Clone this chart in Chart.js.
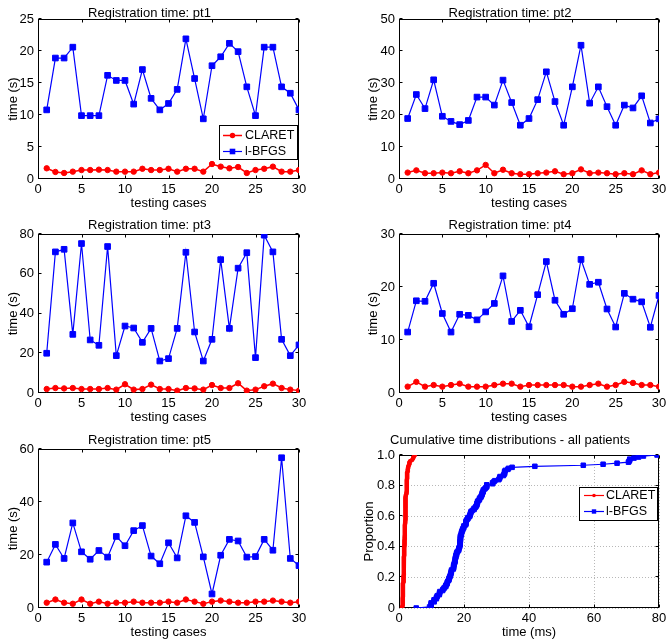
<!DOCTYPE html>
<html>
<head>
<meta charset="utf-8">
<script src="https://cdn.jsdelivr.net/npm/chart.js@4.4.1/dist/chart.umd.min.js"></script>
<style>
  html, body { margin: 0; padding: 0; background: #fff; }
  #wrap { position: relative; width: 672px; height: 644px; overflow: hidden; }
  #wrap canvas { position: absolute; }
</style>
</head>
<body>
<div id="wrap"></div>
<script>
// testing cases 1..30
const cases = [1, 2, 3, 4, 5, 6, 7, 8, 9, 10, 11, 12, 13, 14, 15,
               16, 17, 18, 19, 20, 21, 22, 23, 24, 25, 26, 27, 28, 29, 30];

const seriesNames = ['CLARET', 'l-BFGS'];

// registration time (s) per patient
const claretPt1 = [1.67, 1.1, 0.94, 1.15, 1.4, 1.4, 1.46, 1.4, 1.15, 1.15, 1.15, 1.6, 1.4, 1.4, 1.6,
                   1.15, 1.6, 1.6, 1.15, 2.34, 1.93, 1.67, 1.87, 0.94, 1.4, 1.6, 1.93, 1.15, 1.15, 1.4];
const lbfgsPt1  = [10.8, 18.9, 18.9, 20.6, 9.9, 9.9, 9.9, 16.2, 15.4, 15.4, 11.7, 17.1, 12.6, 10.8, 11.8,
                   14.0, 21.9, 15.7, 9.4, 17.7, 19.1, 21.2, 19.9, 14.4, 9.9, 20.6, 20.6, 14.4, 13.4, 10.8];

const claretPt2 = [2.0, 2.7, 1.8, 1.8, 2.0, 1.8, 2.4, 1.8, 2.7, 4.4, 1.8, 2.9, 1.8, 1.5, 1.5,
                   1.8, 2.0, 2.4, 1.5, 1.8, 3.0, 1.8, 2.0, 1.8, 1.5, 1.8, 1.5, 2.7, 1.5, 2.0];
const lbfgsPt2  = [18.9, 26.4, 22.0, 31.0, 19.6, 18.0, 17.0, 18.3, 25.6, 25.6, 23.1, 30.9, 23.9, 16.8, 18.9,
                   24.8, 33.5, 24.2, 16.8, 28.8, 41.8, 23.7, 28.8, 22.6, 16.8, 23.1, 22.2, 26.0, 17.5, 18.8];

const claretPt3 = [2.0, 2.5, 2.3, 2.5, 2.0, 2.0, 2.0, 2.5, 1.7, 4.4, 1.7, 2.0, 4.2, 2.0, 2.0,
                   1.2, 2.5, 2.3, 1.7, 4.0, 2.5, 2.5, 4.9, 1.2, 1.7, 3.4, 4.7, 2.5, 1.7, 1.2];
const lbfgsPt3  = [20.0, 71.0, 72.3, 29.5, 75.2, 26.7, 24.0, 73.7, 18.8, 33.7, 32.7, 25.5, 32.5, 16.1, 17.3,
                   32.5, 70.8, 30.7, 16.1, 27.0, 67.1, 32.5, 62.8, 70.6, 17.8, 79.4, 71.0, 27.0, 18.8, 24.2];

const claretPt4 = [1.2, 2.1, 1.2, 1.5, 1.2, 1.5, 1.76, 1.2, 1.2, 1.2, 1.5, 1.76, 1.76, 1.2, 1.5,
                   1.5, 1.5, 1.5, 1.5, 1.2, 1.2, 1.5, 1.76, 1.2, 1.5, 2.1, 1.9, 1.5, 1.5, 1.2];
const lbfgsPt4  = [11.5, 17.4, 17.3, 20.7, 15.0, 11.5, 14.85, 14.65, 13.8, 15.3, 16.9, 22.1, 13.5, 15.6, 12.5,
                   18.55, 24.8, 17.5, 14.85, 15.9, 25.2, 20.5, 20.9, 15.85, 12.45, 18.8, 17.7, 17.2, 12.4, 18.4];

const claretPt5 = [2.0, 3.2, 2.0, 1.6, 3.2, 1.6, 2.4, 1.6, 2.0, 2.0, 2.4, 2.0, 2.0, 2.0, 2.4,
                   2.0, 3.2, 2.4, 1.6, 2.4, 2.8, 2.4, 2.0, 2.0, 2.4, 2.4, 2.8, 2.4, 2.0, 2.4];
const lbfgsPt5  = [17.3, 24.0, 18.7, 32.1, 21.2, 18.4, 21.7, 19.2, 27.0, 23.5, 29.2, 31.1, 19.6, 16.7, 24.6,
                   18.9, 34.8, 32.3, 19.3, 5.3, 19.9, 25.9, 25.3, 19.2, 19.4, 25.9, 21.8, 56.7, 18.7, 16.0];

// axis ticks
const caseTicks = { min: 0, max: 30, step: 5 };
const timeAxes = [
  { max: 25, step: 5 },
  { max: 50, step: 10 },
  { max: 80, step: 20 },
  { max: 30, step: 10 },
  { max: 60, step: 20 }
];
const cdfTicks = { xMax: 80, xStep: 20, yMax: 1, yStep: 0.2 };

const FONT = "'Liberation Sans', Arial, Helvetica, sans-serif";
const RED = 'rgb(255,0,0)';
const BLUE = 'rgb(0,0,255)';

Chart.defaults.font.family = FONT;
Chart.defaults.font.size = 13;
Chart.defaults.color = '#000';

// box around the plot with inward ticks on all four sides (matlab look)
const boxTicks = {
  id: 'boxTicks',
  beforeDatasetsDraw(chart) {
    const { ctx, chartArea: a, scales: { x, y } } = chart;
    const L = Math.round(a.left) + 0.5, R = Math.round(a.right) - 0.5;
    const T = Math.round(a.top) + 0.5, B = Math.round(a.bottom) - 0.5;
    ctx.save();
    ctx.strokeStyle = '#000';
    ctx.lineWidth = 1;
    ctx.beginPath();
    x.ticks.forEach(t => {
      const p = Math.round(x.getPixelForValue(t.value)) + 0.5;
      ctx.moveTo(p, B); ctx.lineTo(p, B - 3);
      ctx.moveTo(p, T); ctx.lineTo(p, T + 3);
    });
    y.ticks.forEach(t => {
      const p = Math.round(y.getPixelForValue(t.value)) - 0.5;
      ctx.moveTo(L, p); ctx.lineTo(L + 3, p);
      ctx.moveTo(R, p); ctx.lineTo(R - 3, p);
    });
    ctx.stroke();
    ctx.strokeRect(L, T, R - L, B - T);
    ctx.restore();
  }
};

// legend drawn inside the plot box
const boxLegend = {
  id: 'boxLegend',
  afterDatasetsDraw(chart, args, o) {
    if (!o || !o.show) return;
    const { ctx, chartArea: a } = chart;
    const x0 = Math.round(a.right - o.right - o.w), y0 = Math.round(a.top + o.top);
    ctx.save();
    ctx.fillStyle = '#fff';
    ctx.fillRect(x0, y0, o.w, o.h);
    ctx.strokeStyle = '#000';
    ctx.lineWidth = 1;
    ctx.strokeRect(x0 + 0.5, y0 + 0.5, o.w, o.h);
    ctx.font = '12.5px ' + FONT;
    ctx.textBaseline = 'middle';
    chart.data.datasets.forEach((ds, i) => {
      const yy = y0 + o.rowTop + i * o.rowGap + 0.5;
      const lx = x0 + o.lineX;
      ctx.strokeStyle = ds.borderColor;
      ctx.lineWidth = ds.borderWidth;
      ctx.beginPath();
      ctx.moveTo(lx, yy);
      ctx.lineTo(lx + o.lineLen, yy);
      ctx.stroke();
      const cx = lx + o.lineLen / 2;
      ctx.fillStyle = ds.borderColor;
      ctx.beginPath();
      if (ds.pointStyle === 'rect') {
        ctx.rect(cx - o.sq, yy - o.sq, o.sq * 2, o.sq * 2);
      } else {
        ctx.arc(cx, yy, o.dot, 0, Math.PI * 2);
      }
      ctx.fill();
      ctx.fillStyle = '#000';
      ctx.fillText(ds.label, x0 + o.textX, yy);
    });
    ctx.restore();
  }
};

function xy(xs, ys) {
  return xs.map((v, i) => ({ x: v, y: ys[i] }));
}

// empirical cumulative distribution of all patients
function cdf(values) {
  const s = values.slice().sort((a, b) => a - b);
  return s.map((v, i) => ({ x: v, y: i / (s.length - 1) }));
}

const wrap = document.getElementById('wrap');

function makeChart(p) {
  const [l, t, r, b] = p.plot;
  const yAxisW = 38, xAxisH = 36, top = t - 26, rightPad = 12;
  const cv = document.createElement('canvas');
  cv.width = (r - l) + yAxisW + rightPad;
  cv.height = (b - top) + xAxisH;
  cv.style.left = (l - yAxisW) + 'px';
  cv.style.top = top + 'px';
  cv.style.width = cv.width + 'px';
  cv.style.height = cv.height + 'px';
  wrap.appendChild(cv);

  const titlePadTop = Math.round(p.titleY - top - 6);
  const titlePadBottom = (t - top) - titlePadTop - 12;

  return new Chart(cv, {
    type: 'line',
    data: { datasets: p.datasets },
    plugins: [boxTicks, boxLegend],
    options: {
      responsive: false,
      animation: false,
      devicePixelRatio: 1,
      layout: { padding: { left: 0, right: rightPad, top: 0, bottom: 0 } },
      plugins: {
        legend: { display: false },
        tooltip: { enabled: false },
        title: {
          display: true,
          text: p.title,
          color: '#000',
          font: { size: 13, weight: 'normal', lineHeight: '12px' },
          padding: { top: titlePadTop, bottom: titlePadBottom }
        },
        boxLegend: p.legend || { show: false }
      },
      scales: {
        x: {
          type: 'linear',
          position: 'bottom',
          min: 0,
          max: p.xMax,
          grid: p.grid
            ? { display: true, drawTicks: false, color: '#b8b8b8', lineWidth: 1 }
            : { display: false, drawTicks: false },
          border: { display: false, dash: [1, 2] },
          ticks: { stepSize: p.xStep, padding: 3, maxRotation: 0, autoSkip: false, color: '#000', font: { size: 13 } },
          title: {
            display: true,
            text: p.xTitle,
            color: '#000',
            font: { size: 13, lineHeight: '14px' },
            padding: { top: 0, bottom: 5 }
          },
          afterFit(s) { s.height = xAxisH; }
        },
        y: {
          type: 'linear',
          min: 0,
          max: p.yMax,
          grid: p.grid
            ? { display: true, drawTicks: false, color: '#b8b8b8', lineWidth: 1 }
            : { display: false, drawTicks: false },
          border: { display: false, dash: [1, 2] },
          ticks: { stepSize: p.yStep, padding: 4, autoSkip: false, color: '#000', font: { size: 13 } },
          title: {
            display: true,
            text: p.yTitle,
            color: '#000',
            font: { size: 13, lineHeight: '14px' },
            padding: { top: p.yTitlePad, bottom: 0 }
          },
          afterFit(s) { s.width = yAxisW; }
        }
      }
    }
  });
}

function timeSets(claret, lbfgs) {
  return [
    {
      label: seriesNames[0], data: xy(cases, claret),
      borderColor: RED, backgroundColor: RED, borderWidth: 1.5,
      pointStyle: 'circle', pointRadius: 2.7, pointBorderWidth: 1
    },
    {
      label: seriesNames[1], data: xy(cases, lbfgs),
      borderColor: BLUE, backgroundColor: BLUE, borderWidth: 1.2,
      pointStyle: 'rect', pointRadius: 4, pointBorderWidth: 1
    }
  ];
}

const patients = [
  [claretPt1, lbfgsPt1], [claretPt2, lbfgsPt2], [claretPt3, lbfgsPt3],
  [claretPt4, lbfgsPt4], [claretPt5, lbfgsPt5]
];

// plot rectangles [left, top, right, bottom] and title centres
const layout = [
  { plot: [38, 19, 299, 179], titleY: 12.7, yTitlePad: 6 },
  { plot: [399, 19, 659, 179], titleY: 12.7, yTitlePad: 5 },
  { plot: [38, 234, 299, 393], titleY: 225.3, yTitlePad: 6 },
  { plot: [399, 234, 659, 393], titleY: 225.3, yTitlePad: 5 },
  { plot: [38, 449, 299, 608], titleY: 440.3, yTitlePad: 6 },
  { plot: [399, 455, 659, 608], titleY: 440.3, yTitlePad: 1 }
];

patients.forEach(([claret, lbfgs], i) => {
  makeChart(Object.assign({}, layout[i], {
    title: 'Registration time: pt' + (i + 1),
    xTitle: 'testing cases',
    yTitle: 'time (s)',
    xMax: caseTicks.max, xStep: caseTicks.step,
    yMax: timeAxes[i].max, yStep: timeAxes[i].step,
    datasets: timeSets(claret, lbfgs),
    legend: i === 0
      ? { show: true, right: 2, w: 78, top: 106, h: 34, rowTop: 10, rowGap: 16,
          lineX: 4, lineLen: 19, textX: 26, dot: 2.7, sq: 2.8 }
      : { show: false }
  }));
});

const allClaret = patients.flatMap(p => p[0]);
const allLbfgs = patients.flatMap(p => p[1]);

makeChart(Object.assign({}, layout[5], {
  title: 'Cumulative time distributions - all patients',
  xTitle: 'time (ms)',
  yTitle: 'Proportion',
  xMax: cdfTicks.xMax, xStep: cdfTicks.xStep,
  yMax: cdfTicks.yMax, yStep: cdfTicks.yStep,
  grid: true,
  datasets: [
    {
      label: seriesNames[0], data: cdf(allClaret),
      borderColor: RED, backgroundColor: RED, borderWidth: 1.2,
      pointStyle: 'circle', pointRadius: 1.8, pointBorderWidth: 1
    },
    {
      label: seriesNames[1], data: cdf(allLbfgs),
      borderColor: BLUE, backgroundColor: BLUE, borderWidth: 1.2,
      pointStyle: 'rect', pointRadius: 3.2, pointBorderWidth: 1
    }
  ],
  legend: { show: true, right: 2, w: 78, top: 32, h: 33, rowTop: 8, rowGap: 16,
            lineX: 5, lineLen: 20, textX: 27, dot: 1.8, sq: 2.2 }
}));
</script>
</body>
</html>
